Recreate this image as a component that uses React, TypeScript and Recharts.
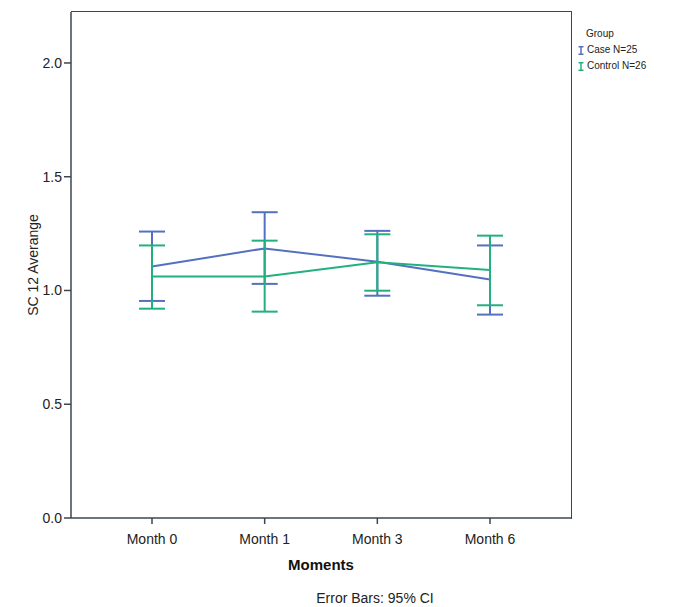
import { LineChart, Line, XAxis, YAxis, ErrorBar, Label } from 'recharts';

const moments = ['Month 0', 'Month 1', 'Month 3', 'Month 6'];

// Case N=25
const caseMean = [1.105, 1.185, 1.126, 1.048];
const caseLower = [0.954, 1.029, 0.977, 0.894];
const caseUpper = [1.259, 1.344, 1.262, 1.198];

// Control N=26
const controlMean = [1.061, 1.061, 1.124, 1.09];
const controlLower = [0.92, 0.907, 0.999, 0.935];
const controlUpper = [1.198, 1.219, 1.247, 1.241];

const yTicks = [0, 0.5, 1.0, 1.5, 2.0];

const CASE_COLOR = '#5470c0';
const CONTROL_COLOR = '#22b07f';
const AXIS_COLOR = '#3c4650';

const data = moments.map((m, i) => ({
  moment: m,
  caseMean: caseMean[i],
  caseErr: [caseMean[i] - caseLower[i], caseUpper[i] - caseMean[i]],
  controlMean: controlMean[i],
  controlErr: [controlMean[i] - controlLower[i], controlUpper[i] - controlMean[i]],
}));

const font = 'Liberation Sans, Arial, Helvetica, sans-serif';

const LegendIcon = ({ color }: { color: string }) => (
  <svg width={6} height={9} style={{ marginRight: 3 }}>
    <line x1={0.5} y1={0.75} x2={5.5} y2={0.75} stroke={color} strokeWidth={1.5} />
    <line x1={3} y1={0.75} x2={3} y2={8.25} stroke={color} strokeWidth={1.5} />
    <line x1={0.5} y1={8.25} x2={5.5} y2={8.25} stroke={color} strokeWidth={1.5} />
  </svg>
);

const App = (): JSX.Element => {
  return (
    <div style={{ position: 'absolute', left: 0, top: 0, width: 673, height: 607, background: '#fff', fontFamily: font }}>
      <LineChart width={673} height={607} data={data} margin={{ top: 12, right: 102, bottom: 59, left: 31 }}>
        <XAxis
          dataKey="moment"
          padding={{ left: 81, right: 81 }}
          stroke={AXIS_COLOR}
          strokeWidth={1.5}
          tickSize={6}
          tick={{ fill: '#222', fontSize: 14, fontFamily: font }}
          tickMargin={10}
          height={30}
        >
          <Label value="Moments" position="insideBottom" offset={-22} style={{ fill: '#111', fontSize: 15, fontWeight: 'bold', fontFamily: font }} />
        </XAxis>
        <YAxis
          domain={[0, 2.224]}
          ticks={yTicks}
          tickFormatter={(v: number) => v.toFixed(1)}
          stroke={AXIS_COLOR}
          strokeWidth={1.5}
          tickSize={7}
          tickMargin={2}
          tick={{ fill: '#222', fontSize: 14, fontFamily: font }}
          width={40}
          allowDataOverflow
        >
          <Label value="SC 12 Averange" angle={-90} position="insideLeft" offset={2} style={{ fill: '#222', fontSize: 14, fontFamily: font, textAnchor: 'middle' }} />
        </YAxis>
        <Line dataKey="caseMean" stroke={CASE_COLOR} strokeWidth={2} dot={false} isAnimationActive={false}>
          <ErrorBar dataKey="caseErr" width={13} stroke={CASE_COLOR} strokeWidth={2} direction="y" />
        </Line>
        <Line dataKey="controlMean" stroke={CONTROL_COLOR} strokeWidth={2} dot={false} isAnimationActive={false}>
          <ErrorBar dataKey="controlErr" width={13} stroke={CONTROL_COLOR} strokeWidth={2} direction="y" />
        </Line>
      </LineChart>
      {/* top and right frame */}
      <div style={{ position: 'absolute', left: 71, top: 11, width: 500, height: 507, borderTop: `1.5px solid ${AXIS_COLOR}`, borderRight: `1.5px solid ${AXIS_COLOR}`, pointerEvents: 'none' }} />
      {/* legend */}
      <div style={{ position: 'absolute', left: 586, top: 26, fontSize: 10, color: '#222', lineHeight: '16px' }}>
        <div>Group</div>
        <div style={{ display: 'flex', alignItems: 'center', marginLeft: -8 }}>
          <LegendIcon color={CASE_COLOR} />
          <span>Case N=25</span>
        </div>
        <div style={{ display: 'flex', alignItems: 'center', marginLeft: -8 }}>
          <LegendIcon color={CONTROL_COLOR} />
          <span>Control N=26</span>
        </div>
      </div>
      <div style={{ position: 'absolute', left: 0, width: 750, top: 590, textAlign: 'center', fontSize: 14, color: '#222' }}>
        Error Bars: 95% CI
      </div>
    </div>
  );
};

export default App;
